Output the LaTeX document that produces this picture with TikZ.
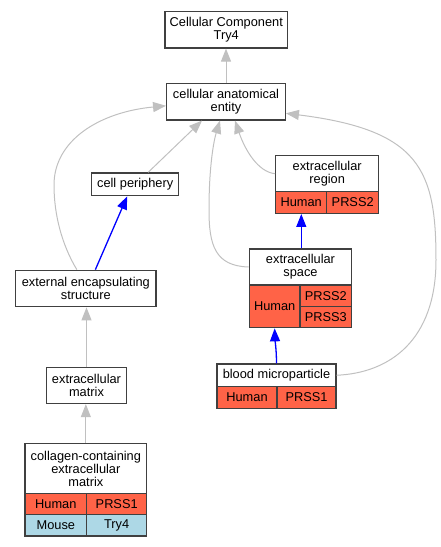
\documentclass[tikz,border=0pt]{standalone}
\usepackage{fontspec}
\setmainfont{Liberation Sans}
\usetikzlibrary{arrows.meta}
\definecolor{tomato}{HTML}{FF6347}
\definecolor{lblue}{HTML}{ADD8E6}
\definecolor{edgegray}{HTML}{C0C0C0}
\definecolor{boxline}{HTML}{404040}
\begin{document}
\begin{tikzpicture}[x=1pt,y=-1pt,
  term/.style={draw=boxline,line width=1.3pt,fill=white,inner sep=0pt,align=center,font=\fontsize{12.8}{13}\selectfont},
  hum/.style={term,fill=tomato},
  mou/.style={term,fill=lblue},
  isa/.style={draw=edgegray,line width=1pt,-{Triangle[length=13pt,width=10pt]}},
  partof/.style={draw=blue,line width=1.3pt,-{Triangle[length=13pt,width=10pt]}}]
\useasboundingbox (0,0) rectangle (441,547);
\node[term,minimum width=122.7pt,minimum height=36.3pt] (cc) at (226.3,29.8) {Cellular Component\\Try4};
\node[term,minimum width=118.6pt,minimum height=36.3pt] (cae) at (226,101.8) {cellular anatomical\\entity};
\node[term,minimum width=87pt,minimum height=22.7pt] (cp) at (135.2,184.3) {cell periphery};
\node[term,minimum width=103pt,minimum height=36pt] (ecr) at (327.2,173.7) {extracellular\\region};
\node[hum,minimum width=51pt,minimum height=21.6pt] (ecrh) at (301.2,202.5) {Human};
\node[hum,minimum width=52pt,minimum height=21.6pt] (ecrg) at (352.7,202.5) {PRSS2};
\node[term,minimum width=102.4pt,minimum height=36pt] (ecs) at (300.5,267) {extracellular\\space};
\node[hum,minimum width=50.7pt,minimum height=42.7pt] (ecsh) at (274.65,306.35) {Human};
\node[hum,minimum width=51.7pt,minimum height=21.7pt] (ecsa) at (325.85,295.85) {PRSS2};
\node[hum,minimum width=51.7pt,minimum height=21pt] (ecsb) at (325.85,317.2) {PRSS3};
\node[term,minimum width=140.3pt,minimum height=36.4pt] (ees) at (85.85,288.5) {external encapsulating\\structure};
\node[term,minimum width=80.4pt,minimum height=35.8pt] (ecm) at (86.5,385.6) {extracellular\\matrix};
\node[term,minimum width=119pt,minimum height=22.5pt] (bmp) at (276.5,375.25) {blood microparticle};
\node[hum,minimum width=60pt,minimum height=21.8pt] (bmph) at (247,397.4) {Human};
\node[hum,minimum width=59pt,minimum height=21.8pt] (bmpg) at (306.5,397.4) {PRSS1};
\node[term,minimum width=121.7pt,minimum height=49.6pt] (ccm) at (85.85,468.5) {collagen-containing\\extracellular\\matrix};
\node[hum,minimum width=61.7pt,minimum height=21pt] (ccmh) at (55.85,503.8) {Human};
\node[hum,minimum width=60pt,minimum height=21pt] (ccmg) at (116.7,503.8) {PRSS1};
\node[mou,minimum width=61.7pt,minimum height=21.7pt] (ccmm) at (55.85,525.15) {Mouse};
\node[mou,minimum width=60pt,minimum height=21.7pt] (ccmt) at (116.7,525.15) {Try4};
\draw[isa] (cae.north) -- (cae.north |- cc.south);
\draw[isa] ([xshift=13pt]cp.north) -- ([xshift=-24pt]cae.south);
\draw[isa] ([xshift=-9pt]ees.north) .. controls (62,245) and (54,215) .. (54,185)
  .. controls (54,140) and (100,112) .. ([yshift=-4pt]cae.west);
\draw[isa] (ecs.west) .. controls (215,266) and (209,245) .. (209,210)
  .. controls (209,165) and (214,140) .. ([xshift=-6pt]cae.south);
\draw[isa] (ecr.west) .. controls (258,172) and (245,150) .. ([xshift=9pt]cae.south);
\draw[isa] (bmp.east) .. controls (390,373) and (436,340) .. (436,260)
  .. controls (436,170) and (420,130) .. ([yshift=-11.5pt]cae.east);
\draw[isa] (ecm.north) -- (ecm.north |- ees.south);
\draw[isa] (ccm.north) -- (ccm.north |- ecm.south);
\draw[partof] ([xshift=9.5pt]ees.north) -- ([xshift=-8pt]cp.south);
\draw[partof] ([xshift=0.8pt]ecs.north) -- ([xshift=0.8pt]ecs.north |- ecrh.south);
\draw[partof] (bmp.north) .. controls (276.5,350) and (275,340) .. (ecsh.south);
\end{tikzpicture}
\end{document}
